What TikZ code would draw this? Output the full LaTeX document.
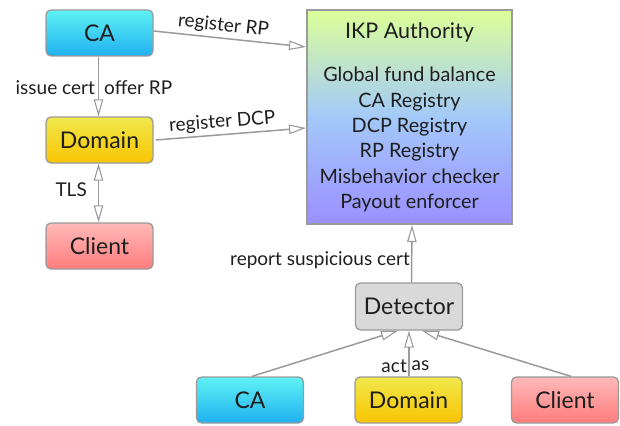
\documentclass[tikz,border=0pt]{standalone}
\usepackage{fontspec}
\setmainfont{Lato}
\usetikzlibrary{arrows.meta,calc}
\definecolor{edgegray}{HTML}{9A9A9A}
\definecolor{txt}{HTML}{1E1E1E}
\definecolor{caTop}{HTML}{5EF2F4}
\definecolor{caBot}{HTML}{20B0F0}
\definecolor{dmTop}{HTML}{F0E84C}
\definecolor{dmBot}{HTML}{F9C400}
\definecolor{clTop}{HTML}{FFB9B9}
\definecolor{clBot}{HTML}{FF7C7C}
\definecolor{detFill}{HTML}{D9D9D9}
\definecolor{ikpTop}{HTML}{DCFF98}
\definecolor{ikpMid}{HTML}{A3C9FA}
\definecolor{ikpBot}{HTML}{9B8FFF}
\pgfdeclareverticalshading{ikpshade}{100bp}{
  color(0bp)=(ikpBot);
  color(25bp)=(ikpBot);
  color(50bp)=(ikpMid);
  color(75bp)=(ikpTop);
  color(100bp)=(ikpTop)}
\tikzset{
  x=1pt, y=-1pt,
  every node/.style={text=txt, inner sep=0pt},
  box/.style={draw=edgegray, line width=1.3pt, rounded corners=5pt,
    minimum width=107pt, minimum height=46pt, font=\fontsize{23}{26}\selectfont},
  cabox/.style={box, top color=caTop, bottom color=caBot},
  dmbox/.style={box, top color=dmTop, bottom color=dmBot},
  clbox/.style={box, top color=clTop, bottom color=clBot},
  detbox/.style={box, fill=detFill, minimum width=107pt, minimum height=47pt},
  opentip/.style={},
  conn/.style={draw=edgegray, line width=1.5pt,
    -{Triangle[open, length=17pt, width=9.5pt, line width=1.1pt]}},
  biconn/.style={draw=edgegray, line width=1.5pt,
    {Triangle[open, length=17pt, width=9.5pt, line width=1.1pt]}-{Triangle[open, length=17pt, width=9.5pt, line width=1.1pt]}},
  lbl/.style={font=\fontsize{19}{21}\selectfont},
}
\begin{document}
\begin{tikzpicture}
\useasboundingbox (0,0) rectangle (620,425);
% left column
\node[cabox] (ca) at (99.5,33) {CA};
\node[dmbox] (dom) at (99.5,140) {Domain};
\node[clbox] (cli) at (99.5,246) {Client};
% IKP authority
\node[draw=edgegray, line width=2pt, shading=ikpshade, minimum width=205pt, minimum height=214pt] (ikp) at (409.5,117) {};
\node[font=\fontsize{21.5}{24}\selectfont] (ikptitle) at (409.5,32) {IKP Authority};
\node[font=\fontsize{19.8}{25.3}\selectfont, align=center] (ikplist) at (409.5,139.5)
  {Global fund balance\\CA Registry\\DCP Registry\\RP Registry\\Misbehavior checker\\Payout enforcer};
% detector and bottom row
\node[detbox] (det) at (409,306.5) {Detector};
\node[cabox] (ca2) at (250,400) {CA};
\node[dmbox] (dom2) at (408.5,400) {Domain};
\node[clbox] (cli2) at (565,400) {Client};
% connectors
\coordinate (ikpRP) at ([yshift=-38pt]ikp.north west);
\coordinate (ikpDCP) at ([yshift=-119pt]ikp.north west);
\draw[conn] ([yshift=2pt]ca.east) -- node[lbl, sloped, above=3pt, pos=0.45] {register RP} (ikpRP);
\draw[conn] ([xshift=2pt]dom.east) -- node[lbl, sloped, above=3pt, pos=0.45] {register DCP} (ikpDCP);
\draw[conn] ([xshift=-1pt]ca.south) -- ([xshift=-1pt]dom.north);
\node[lbl, anchor=east] (issue) at (95,88) {issue cert};
\node[lbl, anchor=west] (offer) at (104,88) {offer RP};
\draw[biconn] ([xshift=-1pt]dom.south) -- ([xshift=-1pt]cli.north);
\node[lbl, anchor=east] (tls) at (87,190) {TLS};
\draw[conn] ([xshift=2.5pt]det.north) -- ([xshift=2.5pt]ikp.south);
\node[lbl, anchor=east] (report) at (410,260) {report suspicious cert};
\draw[conn] ([xshift=2pt]ca2.north) -- ([xshift=-11pt]det.south);
\draw[conn] ([xshift=0.5pt]dom2.north) -- ([xshift=0pt]det.south);
\draw[conn] ([xshift=6pt]cli2.north) -- ([xshift=13pt]det.south);
\node[lbl, anchor=east] (act) at (407,366) {act};
\node[lbl, anchor=west] (as) at (411.5,366) {as};
\end{tikzpicture}
\end{document}
